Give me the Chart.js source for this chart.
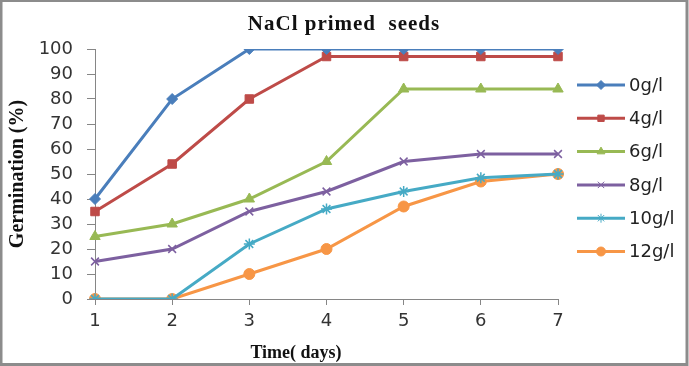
<!DOCTYPE html>
<html>
<head>
<meta charset="utf-8">
<script src="https://cdn.jsdelivr.net/npm/chart.js@4"></script>
<style>
html, body { margin: 0; padding: 0; background: #fff; }
#wrap { width: 689px; height: 366px; position: relative; }
</style>
</head>
<body>
<div id="wrap"><canvas id="chart" width="689" height="366"></canvas></div>
<script>
// days on x
const days = ['1', '2', '3', '4', '5', '6', '7'];
const yTicks = [0, 10, 20, 30, 40, 50, 60, 70, 80, 90, 100];

const seriesNames = ['0g/l', '4g/l', '6g/l', '8g/l', '10g/l', '12g/l'];
const g0 = [40, 80, 100, 100, 100, 100, 100];
const g4 = [35, 54, 80, 97, 97, 97, 97];
const g6 = [25, 30, 40, 55, 84, 84, 84];
const g8 = [15, 20, 35, 43, 55, 58, 58];
const g10 = [0, 0, 22, 36, 43, 48.5, 50];
const g12 = [0, 0, 10, 20, 37, 47, 50];

const colors = ['#4A7EBB', '#BE4B48', '#98B954', '#7D60A0', '#46AAC5', '#F79646'];
const markers = ['rectRot', 'rect', 'triangle', 'crossRot', 'star', 'circle'];
const markerSize = [5.5, 6, 6, 5.5, 5.5, 5.5];

const allData = [g0, g4, g6, g8, g10, g12];

const datasets = allData.map((d, i) => ({
    label: seriesNames[i],
    data: d,
    borderColor: colors[i],
    backgroundColor: colors[i],
    borderWidth: 3,
    pointStyle: markers[i],
    pointRadius: markerSize[i],
    pointBorderWidth: (markers[i] === 'crossRot' || markers[i] === 'star') ? 1.5 : 1,
    pointBorderColor: colors[i],
    pointBackgroundColor: colors[i],
    tension: 0
}));

// frame, chart title, x-axis title and the right-side legend
const extras = {
    id: 'extras',
    afterDraw(chart) {
        const c = chart.ctx;
        c.save();
        c.strokeStyle = '#8c8c8c';
        c.lineWidth = 3;
        c.strokeRect(1, 0.5, 686, 364);

        c.fillStyle = '#111';
        c.textAlign = 'center';
        c.textBaseline = 'middle';
        c.font = 'bold 21px "Liberation Serif"';
        c.letterSpacing = '1px';
        c.fillText('NaCl primed  seeds', 344, 25);
        c.letterSpacing = '0px';
        c.font = 'bold 18px "Liberation Serif"';
        c.fillText('Time( days)', 296, 353);

        c.textAlign = 'left';
        c.font = '18px "DejaVu Sans"';
        seriesNames.forEach((name, i) => {
            const y = 85 + i * 33.3;
            c.strokeStyle = colors[i];
            c.lineWidth = 3;
            c.beginPath();
            c.moveTo(577, y);
            c.lineTo(625, y);
            c.stroke();
            c.fillStyle = colors[i];
            c.lineWidth = 1;
            Chart.helpers.drawPoint(c, { pointStyle: markers[i], radius: 4.5, borderWidth: 1.5 }, 601, y);
            c.fillStyle = '#222';
            c.fillText(name, 629, y + 1);
        });
        c.restore();
    }
};

new Chart(document.getElementById('chart'), {
    type: 'line',
    data: { labels: days, datasets: datasets },
    options: {
        responsive: false,
        animation: false,
        layout: { padding: { left: 0, right: 131, top: 49, bottom: 0 } },
        plugins: {
            legend: { display: false },
            tooltip: { enabled: false }
        },
        scales: {
            x: {
                offset: false,
                grid: { drawOnChartArea: false, drawTicks: true, tickLength: 6, color: '#868686' },
                border: { color: '#868686', width: 1 },
                ticks: { color: '#333', font: { family: 'DejaVu Sans', size: 18 }, padding: 6, maxRotation: 0 },
                afterFit(scale) { scale.height = 67; }
            },
            y: {
                min: 0,
                max: 100,
                afterBuildTicks(scale) { scale.ticks = yTicks.map(v => ({ value: v })); },
                grid: { drawOnChartArea: false, drawTicks: true, tickLength: 8, color: '#868686' },
                border: { color: '#868686', width: 1 },
                ticks: { color: '#333', font: { family: 'DejaVu Sans', size: 18 }, padding: 14 },
                title: {
                    display: true,
                    text: 'Germination (%)',
                    color: '#111',
                    font: { family: 'Liberation Serif', size: 20, weight: 'bold' },
                    padding: { top: 6, bottom: 0 }
                },
                afterFit(scale) { scale.width = 95; }
            }
        }
    },
    plugins: [extras]
});
</script>
</body>
</html>
